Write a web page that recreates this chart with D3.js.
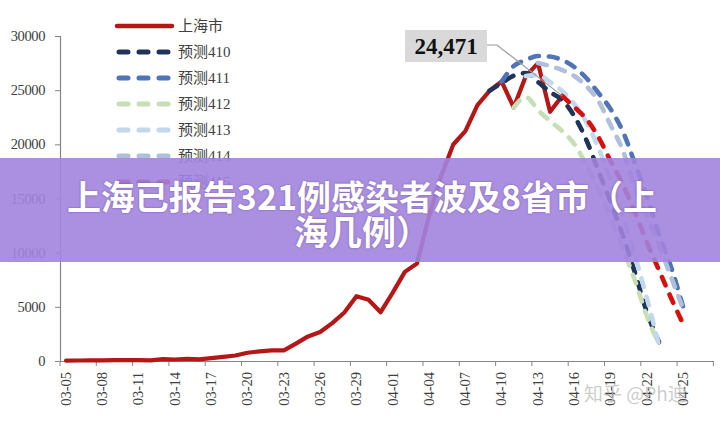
<!DOCTYPE html>
<html><head><meta charset="utf-8">
<script src="https://cdn.jsdelivr.net/npm/d3@7"></script>
<style>
html,body{margin:0;padding:0;background:#fff;}
svg{display:block;}
</style></head>
<body>
<svg id="chart" width="720" height="423"></svg>
<script>
// ---- data ----
const days = ["03-05","03-06","03-07","03-08","03-09","03-10","03-11","03-12","03-13","03-14",
"03-15","03-16","03-17","03-18","03-19","03-20","03-21","03-22","03-23","03-24",
"03-25","03-26","03-27","03-28","03-29","03-30","03-31","04-01","04-02","04-03",
"04-04","04-05","04-06","04-07","04-08","04-09","04-10","04-11","04-12","04-13",
"04-14","04-15","04-16","04-17","04-18","04-19","04-20","04-21","04-22","04-23",
"04-24","04-25","04-26","04-27"];
const tickLabels = ["03-05","03-08","03-11","03-14","03-17","03-20","03-23","03-26","03-29",
"04-01","04-04","04-07","04-10","04-13","04-16","04-19","04-22","04-25"];
const yTicks = [0,5000,10000,15000,20000,25000,30000];

const shanghai = [28,48,55,65,80,75,83,65,169,139,202,158,260,374,509,758,896,981,983,1609,
2269,2676,3500,4477,5982,5653,4502,6311,8226,9006,13354,17077,19982,21222,23624,24943,
25800,23400,26300,27500,23000,24471];
const pred410 = [24943,25660,26330,26580,25750,24830,24090,22610,20400,17540,14680,11630,8210,4520,1750];
const pred411 = [25800,27230,27780,28150,28100,27780,27140,26120,24740,23260,21230,18280,15140,11720,8680,4980];
const pred412 = [23400,24370,23170,22150,21230,20030,18090,15780,13200,10430,7480,4150,1570];
const pred413 = [26300,26400,25750,24920,23720,22060,19660,16700,13480,9780,5820,1480];
const pred414 = [27500,27230,26860,26310,25380,24000,21780,19480,16060,13380,10710,7750,4800];
const pred415 = [24471,23440,22340,20670,18460,16340,13750,10980,8400,5820,3420];

const seriesNames = ["上海市","预测410","预测411","预测412","预测413","预测414","预测415"];
const seriesStarts = ["03-05","04-09","04-10","04-11","04-12","04-13","04-15"];
const seriesValues = [shanghai,pred410,pred411,pred412,pred413,pred414,pred415];
const seriesColors = ["#b51616","#1f3458","#4f75b8","#c8dfb6","#c2d8ee","#b0bfda","#d60f0f"];
const annotationText = "24,471";
const bannerLines = ["上海已报告321例感染者波及8省市（上","海几例）"];
const watermark = "知乎 @Ph迪";

// ---- chart ----
const serif = "'Liberation Serif', 'Times New Roman', serif";
const svg = d3.select("#chart");
const x = d3.scaleBand().domain(days).range([60, 713.4]).paddingInner(0).paddingOuter(0);
const bw = x.bandwidth();
const y = d3.scaleLinear().domain([0,30000]).range([361,36]);
const cx = d => x(d) + bw/2;

// y axis
const yAxis = svg.append("g").attr("transform","translate(60,0)")
  .call(d3.axisLeft(y).tickValues(yTicks).tickSize(5).tickPadding(10).tickFormat(d=>String(d)));
yAxis.attr("font-family", null);
yAxis.select(".domain").attr("stroke","#868686").attr("stroke-width",1.2);
yAxis.selectAll(".tick line").attr("stroke","#868686");
yAxis.selectAll("text").style("font-family",serif).style("font-size","14.5px")
  .attr("fill","#404040").attr("letter-spacing","-0.4");

// x axis
const xAxis = svg.append("g").attr("transform","translate(0,361)")
  .call(d3.axisBottom(x).tickValues(tickLabels).tickSize(5).tickPadding(0).tickSizeOuter(0));
xAxis.attr("font-family", null);
xAxis.select(".domain").attr("stroke","#868686").attr("stroke-width",1.2);
xAxis.selectAll(".tick line").attr("stroke","#868686").attr("x1",-bw/2).attr("x2",-bw/2);
xAxis.selectAll(".tick text")
  .style("font-family",serif).style("font-size","14.5px").attr("fill","#404040")
  .attr("text-anchor","end").attr("transform","rotate(-90)")
  .attr("x",-11).attr("y",0).attr("dy","0.33em");
// end tick
svg.append("line").attr("x1",x.range()[1]).attr("x2",x.range()[1]).attr("y1",361).attr("y2",366)
  .attr("stroke","#868686");

// lines
const plot = svg.append("g");
seriesValues.forEach((vals,i)=>{
  const s = days.indexOf(seriesStarts[i]);
  const pts = vals.map((v,k)=>[days[s+k], v]);
  const line = d3.line().x(p=>cx(p[0])).y(p=>y(p[1]))
    .curve(i===0 ? d3.curveLinear : d3.curveMonotoneX);
  const path = plot.append("path").attr("d", line(pts)).attr("fill","none")
    .attr("stroke", seriesColors[i]).attr("stroke-linejoin","round").attr("stroke-linecap","round");
  if(i===0){ path.attr("stroke-width",4.2); }
  else { path.attr("stroke-width",4.6).attr("stroke-dasharray","9,10"); }
});

// legend
const lg = svg.append("g");
seriesNames.forEach((n,i)=>{
  const yy = 26 + i*26;
  const l = lg.append("line").attr("x1",119).attr("x2",170).attr("y1",yy).attr("y2",yy)
    .attr("stroke",seriesColors[i]).attr("stroke-linecap","round");
  if(i===0) l.attr("stroke-width",4.5).attr("x1",117).attr("x2",172);
  else l.attr("stroke-width",5).attr("stroke-dasharray","9,11");
  lg.append("text").attr("x",178).attr("y",yy+5).text(n)
    .style("font-family","'Liberation Serif','Noto Sans CJK SC',serif").style("font-size","15px").attr("fill","#404040");
});

// annotation
const last = shanghai.length-1;
const px = cx(days[last]), py = y(shanghai[last]);
svg.append("polyline").attr("points",`487,45 497,45 ${px},${py}`).attr("fill","none")
  .attr("stroke","#9a9a9a").attr("stroke-width",1.2);
svg.append("rect").attr("x",405).attr("y",30).attr("width",82).attr("height",32).attr("fill","#d9d9d9");
svg.append("text").attr("x",446).attr("y",54).attr("text-anchor","middle").text(annotationText)
  .style("font-family",serif).style("font-size","23px").attr("font-weight","bold").attr("fill","#111");

// watermark
svg.append("text").attr("x",584).attr("y",401).text(watermark)
  .style("font-family","'Noto Sans CJK SC', sans-serif").style("font-size","19px")
  .attr("fill","#bbbbbb").attr("fill-opacity",0.75);

// banner
svg.append("rect").attr("x",0).attr("y",158).attr("width",720).attr("height",104)
  .attr("fill","#a283de").attr("fill-opacity",0.9);
bannerLines.forEach((t,i)=>{
  svg.append("text").attr("x",362).attr("y",210+i*35).attr("text-anchor","middle").text(t)
    .style("font-family","'Noto Sans CJK SC', sans-serif").attr("font-weight","bold")
    .style("font-size","34px").attr("fill","#fff")
    .style("text-shadow","0 0 2px rgba(60,30,90,0.5)");
});
</script>
</body></html>
